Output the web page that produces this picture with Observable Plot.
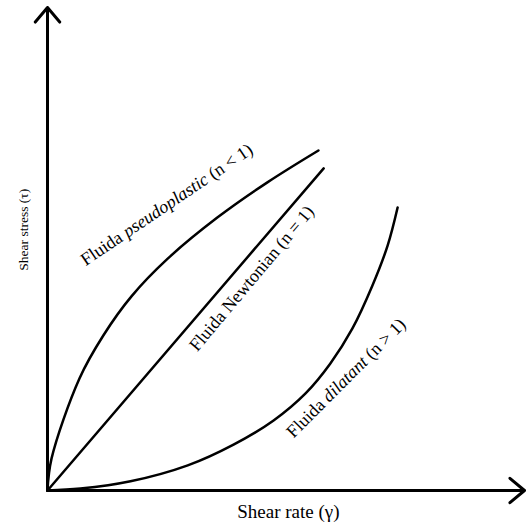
<!DOCTYPE html>
<html><head><meta charset="utf-8">
<script src="https://cdn.jsdelivr.net/npm/d3@7"></script>
<script src="https://cdn.jsdelivr.net/npm/@observablehq/plot@0.6"></script>
<style>body{margin:0;background:#fff} svg{display:block}</style>
</head><body><div id="chart"></div>
<script>
// Domains (unitless axes, no ticks)
const xDomain = [0, 100];
const yDomain = [0, 100];

// Pseudoplastic fluid (n < 1)
const pseudoX = [0, 0.84, 6.7, 11.7, 17.6, 25.2, 35.6, 46.1, 56.8];
const pseudoY = [0, 6.6, 23.2, 32.1, 40.2, 48.0, 56.5, 63.8, 70.4];

// Newtonian fluid (n = 1)
const newtonX = [0, 57.9];
const newtonY = [0, 66.7];

// Dilatant fluid (n > 1)
const dilatX = [0, 6.9, 17.4, 29.4, 39.0, 47.4, 54.1, 59.3, 63.9, 68.1, 71.3, 73.4];
const dilatY = [0, 0.4, 1.9, 5.2, 9.5, 14.5, 20.1, 26.3, 33.5, 42.4, 50.7, 58.6];

// Curve labels
const labelText = ["Fluida pseudoplastic (n < 1)", "Fluida Newtonian (n = 1)", "Fluida dilatant (n > 1)"];
const labelItalic = ["pseudoplastic", null, "dilatant"];
const labelX = [25.0, 42.8, 62.6];
const labelY = [59.2, 43.9, 23.3];
const labelAngle = [-34, -50, -45];

const xTitle = "Shear rate (γ)";
const yTitle = "Shear stress (τ)";

const zip = (xs, ys) => xs.map((x, i) => ({x, y: ys[i]}));
const pseudo = zip(pseudoX, pseudoY);
const newton = zip(newtonX, newtonY);
const dilat = zip(dilatX, dilatY);
const labels = labelText.map((t, i) => ({text: t, x: labelX[i], y: labelY[i], angle: labelAngle[i]}));
const axes = [
  {x1: xDomain[0], y1: yDomain[0], x2: xDomain[0], y2: yDomain[1]},
  {x1: xDomain[0], y1: yDomain[0], x2: xDomain[1], y2: yDomain[0]}
];

const lineStyle = {x: "x", y: "y", curve: "catmull-rom", stroke: "black", strokeWidth: 2.5};

const chart = Plot.plot({
  width: 526, height: 524,
  marginLeft: 47, marginRight: 2, marginTop: 7, marginBottom: 34,
  x: {domain: xDomain, axis: null},
  y: {domain: yDomain, axis: null},
  style: {fontFamily: "'Liberation Serif', 'Times New Roman', serif", background: "white", color: "black"},
  marks: [
    Plot.line(pseudo, lineStyle),
    Plot.line(newton, lineStyle),
    Plot.line(dilat, lineStyle),
    Plot.arrow(axes, {x1: "x1", y1: "y1", x2: "x2", y2: "y2", stroke: "black", strokeWidth: 3,
      headAngle: 80, headLength: 9.5, strokeLinecap: "round", strokeLinejoin: "round"}),
    Plot.text(labels, {x: "x", y: "y", text: "text", rotate: "angle", fontSize: 18, fill: "black"}),
    Plot.text([xTitle], {x: (xDomain[0] + xDomain[1]) * 0.505, y: -4.4, text: d => d, fontSize: 19, fill: "black"}),
    Plot.text([yTitle], {x: -5.0, y: 54.0, text: d => d, rotate: -90, fontSize: 13.5, fill: "black"})
  ]
});

// italicise the fluid-type words
chart.querySelectorAll("text").forEach(t => {
  const s = t.textContent;
  labelItalic.forEach(w => {
    if (w && s.includes(w) && !t.querySelector("tspan")) {
      const [a, b] = s.split(w);
      t.textContent = "";
      const ns = "http://www.w3.org/2000/svg";
      const t1 = document.createElementNS(ns, "tspan"); t1.textContent = a;
      const t2 = document.createElementNS(ns, "tspan"); t2.textContent = w; t2.setAttribute("font-style", "italic");
      const t3 = document.createElementNS(ns, "tspan"); t3.textContent = b;
      t.append(t1, t2, t3);
    }
  });
});

document.getElementById("chart").append(chart);
</script>
</body></html>
